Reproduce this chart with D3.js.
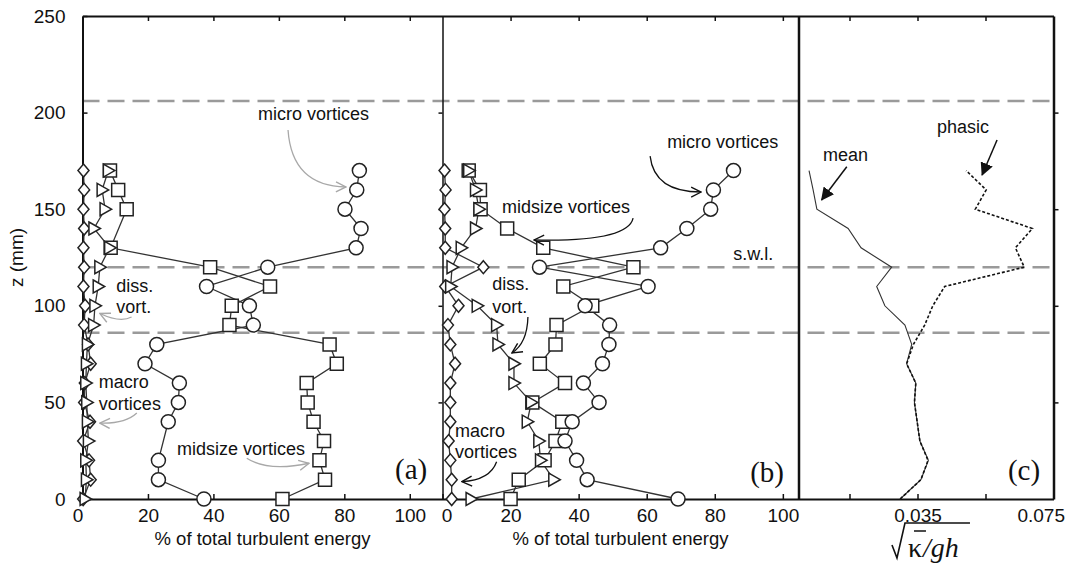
<!DOCTYPE html>
<html>
<head>
<meta charset="UTF-8">
<style>
  body { margin: 0; background: #fff; }
  svg text { font-family: 'Liberation Sans', Arial, sans-serif; fill: #111; }
  .axis path.domain { stroke: #111; stroke-width: 2; }
  .axis line { stroke: #111; stroke-width: 1.5; }
  .axis text { font-size: 19px; }
  .ann { font-size: 18px; }
  .panel-tag { font-family: 'Liberation Serif', 'Times New Roman', serif !important; font-size: 29px; }
</style>
</head>
<body>
<svg id="chart" width="1072" height="563"></svg>
<script src="https://d3js.org/d3.v7.min.js"></script>
<script>
// heights (mm)
const zLevels = [0, 10, 20, 30, 40, 50, 60, 70, 80, 90, 100, 110, 120, 130, 140, 150, 160, 170];
const dashLevels = [206, 120, 86];

// panel (a): % of total turbulent energy, null = no marker at that level
const aMicro = [37.1, 23.2, 23.2, null, 26.2, 29.3, 29.6, 19.1, 22.7, 52.2, 51.0, 37.9, 56.6, 83.6, 85.1, 80.2, 83.8, 84.6];
const aMid   = [61.1, 74.1, 72.4, 73.8, 70.6, 68.8, 68.5, 77.7, 75.5, 44.9, 45.6, 57.3, 39.0, 8.6, null, 13.5, 10.9, 8.4];
const aDiss  = [0.8, 1.2, 1.0, 1.8, 1.5, 1.3, 1.0, 1.2, 1.5, 3.4, 3.8, 4.8, 5.3, 8.3, 3.5, 6.9, 6.0, 7.9];
const aMacro = [0.2, 2.5, 2.0, 0.2, 2.3, 0.5, 0.7, 2.5, 1.7, 0.5, 0.8, 0.3, 0.5, 0.3, 0.5, 0.3, 0.5, 0.3];

// panel (b)
const bMicro = [69.2, 42.5, 39.4, 36.0, 38.1, 46.0, 41.4, 47.0, 48.9, 49.1, 41.9, 60.4, 28.5, 64.1, 71.8, 78.8, 79.6, 85.5];
const bMid   = [20.0, 22.4, 30.0, 33.2, 35.2, 26.4, 36.0, 28.6, 33.2, 33.5, 44.0, 35.5, 56.1, 29.6, 19.0, 11.2, 11.0, 7.7];
const bDiss  = [8.4, 32.7, 28.8, 28.3, 24.9, 26.1, 21.0, 21.0, 16.3, 15.9, 10.2, 2.4, 2.8, 5.5, 9.7, 10.7, 9.7, 7.7];
const bMacro = [2.7, 2.7, 2.3, 1.8, 2.3, 2.3, 2.3, 3.7, 2.3, 1.6, 4.7, 0.8, 12.0, 0.8, 0.8, 0.6, 0.9, 0.6];

// panel (c): sqrt(k/gh)
const cMean   = [0.0299, 0.0360, 0.0382, 0.0357, 0.0349, 0.0341, 0.0345, 0.0318, 0.0333, 0.0313, 0.0254, 0.0230, 0.0274, 0.0184, 0.0146, 0.0054, 0.0043, 0.0031];
const cPhasic = [0.0299, 0.0360, 0.0381, 0.0357, 0.0349, 0.0341, 0.0345, 0.0318, 0.0338, 0.0371, 0.0395, 0.0430, 0.0664, 0.0638, 0.0688, 0.0520, 0.0552, 0.0493];

const pctTicks = [0, 20, 40, 60, 80, 100];
const zTicks = [0, 50, 100, 150, 200, 250];
const cTicks = [0.015, 0.035, 0.055, 0.075];
const cTickLabels = [0.035, 0.075];

const svg = d3.select("#chart");

let y  = d3.scaleLinear().domain([0, 250]).range([499, 16]);
let xa = d3.scaleLinear().domain([0, 110]).range([82.5, 442.5]);
let xb = d3.scaleLinear().domain([0, 104.6]).range([442.5, 798.5]);
let xc = d3.scaleLinear().domain([0, 0.075]).range([798.5, 1053.5]);

// arrow heads
let defs = svg.append("defs");
function openHead(id, col) {
  defs.append("marker").attr("id", id)
    .attr("viewBox", "0 0 12 12").attr("refX", 11).attr("refY", 6)
    .attr("markerWidth", 12).attr("markerHeight", 12)
    .attr("markerUnits", "userSpaceOnUse").attr("orient", "auto")
    .append("path").attr("d", "M1,1 L11,6 L1,11")
    .attr("fill", "none").attr("stroke", col).attr("stroke-width", 1.4);
}
openHead("headGray", "#a8a8a8");
openHead("headBlack", "#111");
defs.append("marker").attr("id", "headFill")
  .attr("viewBox", "0 0 12 12").attr("refX", 11).attr("refY", 6)
  .attr("markerWidth", 13).attr("markerHeight", 13)
  .attr("markerUnits", "userSpaceOnUse").attr("orient", "auto")
  .append("path").attr("d", "M0,0 L12,6 L0,12 Z").attr("fill", "#111");

// dashed reference levels
svg.append("g").selectAll("line").data(dashLevels).enter().append("line")
  .attr("x1", xa(0)).attr("x2", xc(0.075))
  .attr("y1", d => y(d)).attr("y2", d => y(d))
  .attr("stroke", "#9a9a9a").attr("stroke-width", 2.5)
  .attr("stroke-dasharray", "17,8");

// axes
function axisG(cls) { return svg.append("g").attr("class", "axis " + cls); }

axisG("yl").attr("transform", "translate(" + xa(0) + ",0)")
  .call(d3.axisLeft(y).tickValues(zTicks).tickSize(-5).tickSizeOuter(0).tickPadding(17));

axisG("ya").attr("transform", "translate(" + xa.range()[1] + ",0)")
  .call(d3.axisRight(y).tickValues([50, 100, 150, 200]).tickSize(-4).tickSizeOuter(0).tickFormat(""))
  .select("path.domain").style("stroke-width", 1.5);

axisG("yb").attr("transform", "translate(" + xb.range()[1] + ",0)")
  .call(d3.axisRight(y).tickValues([]).tickSizeOuter(0))
  .select("path.domain").style("stroke-width", 2.5);

axisG("yc").attr("transform", "translate(" + xc.range()[1] + ",0)")
  .call(d3.axisLeft(y).tickValues([50, 100, 150, 200]).tickSize(-5).tickSizeOuter(0).tickFormat(""))
  .select("path.domain").style("stroke-width", 2.5);

let bxa = axisG("xa").attr("transform", "translate(0," + y(0) + ")")
  .call(d3.axisBottom(xa).tickValues(pctTicks).tickSize(-5).tickSizeOuter(0).tickPadding(10));
bxa.selectAll(".tick text").filter(d => d === 0).attr("dx", -5);
axisG("xat").attr("transform", "translate(0," + y(250) + ")")
  .call(d3.axisTop(xa).tickValues(pctTicks.slice(1)).tickSize(-5).tickSizeOuter(0).tickFormat(""));

let bxb = axisG("xb").attr("transform", "translate(0," + y(0) + ")")
  .call(d3.axisBottom(xb).tickValues(pctTicks).tickSize(-5).tickSizeOuter(0).tickPadding(10));
bxb.selectAll(".tick text").filter(d => d === 0).attr("dx", 4);
axisG("xbt").attr("transform", "translate(0," + y(250) + ")")
  .call(d3.axisTop(xb).tickValues(pctTicks.slice(1)).tickSize(-5).tickSizeOuter(0).tickFormat(""));

let bxc = axisG("xc").attr("transform", "translate(0," + y(0) + ")")
  .call(d3.axisBottom(xc).tickValues(cTicks).tickSize(-5).tickSizeOuter(0).tickPadding(10)
    .tickFormat(d => cTickLabels.includes(d) ? String(d) : ""));
bxc.selectAll(".tick text").filter(d => d === 0.075).attr("text-anchor", "end").attr("dx", 11);
axisG("xct").attr("transform", "translate(0," + y(250) + ")")
  .call(d3.axisTop(xc).tickValues(cTicks.slice(0, 3)).tickSize(-5).tickSizeOuter(0).tickFormat(""));

// axis titles
svg.append("text").attr("class", "ann")
  .attr("transform", "translate(23," + y(125) + ") rotate(-90)")
  .attr("text-anchor", "middle").style("font-size", "19px").text("z (mm)");
svg.append("text").attr("class", "ann").attr("text-anchor", "middle")
  .attr("x", (xa.range()[0] + xa.range()[1]) / 2).attr("y", 545).style("font-size", "18.5px")
  .text("% of total turbulent energy");
svg.append("text").attr("class", "ann").attr("text-anchor", "middle")
  .attr("x", (xb.range()[0] + xb.range()[1]) / 2).attr("y", 545).style("font-size", "18.5px")
  .text("% of total turbulent energy");

// sqrt(k/gh) label
let kx = xc(0.0322);
let kap = svg.append("text").attr("x", kx).attr("y", 557)
  .style("font-family", "'Liberation Serif', serif").style("font-size", "28px").text("κ");
let kw = kap.node().getComputedTextLength();
svg.append("text").attr("x", kx + kw + 1).attr("y", 557)
  .style("font-family", "'Liberation Serif', serif").style("font-size", "28px")
  .style("font-style", "italic").text("/gh");
svg.append("path")
  .attr("d", "M" + (kx - 16) + ",545 L" + (kx - 11) + ",558 L" + (kx - 3) + ",523 L" + (kx + 62) + ",523")
  .attr("fill", "none").attr("stroke", "#111").attr("stroke-width", 1.6);
svg.append("line").attr("x1", kx + 6).attr("x2", kx + 18).attr("y1", 531).attr("y2", 531)
  .attr("stroke", "#111").attr("stroke-width", 1.5);

// marker shapes
function shapePath(shape) {
  if (shape === "circle") return d3.symbol(d3.symbolCircle, 154)();
  if (shape === "square") return "M-6.5,-6.5H6.5V6.5H-6.5Z";
  if (shape === "triangle") return "M-5,-6.5L6.5,0L-5,6.5Z";
  return "M0,-6.5L5.5,0L0,6.5L-5.5,0Z";
}

function drawSeries(g, xs, vals) {
  let pts = zLevels.map((z, i) => ({ z: z, v: vals[i] })).filter(d => d.v != null);
  g.append("path").datum(pts)
    .attr("fill", "none").attr("stroke", "#333").attr("stroke-width", 1.3)
    .attr("d", d3.line().x(d => xs(d.v)).y(d => y(d.z)));
  return pts;
}
function drawMarks(g, xs, pts, shape) {
  g.selectAll("path.m-" + shape).data(pts).enter().append("path")
    .attr("class", "m-" + shape)
    .attr("transform", d => "translate(" + xs(d.v) + "," + y(d.z) + ")")
    .attr("d", shapePath(shape))
    .attr("fill", "#fff").attr("stroke", "#222").attr("stroke-width", 1.5);
}

function panel(xs, sets) {
  let g = svg.append("g");
  let all = sets.map(s => ({ pts: drawSeries(g, xs, s[0]), shape: s[1] }));
  all.forEach(s => drawMarks(g, xs, s.pts, s.shape));
}
panel(xa, [[aMacro, "diamond"], [aMid, "square"], [aMicro, "circle"], [aDiss, "triangle"]]);
panel(xb, [[bMacro, "diamond"], [bMid, "square"], [bMicro, "circle"], [bDiss, "triangle"]]);

// panel (c) lines
svg.append("path").datum(cMean)
  .attr("fill", "none").attr("stroke", "#333").attr("stroke-width", 1.1)
  .attr("d", d3.line().x(d => xc(d)).y((d, i) => y(zLevels[i])));
svg.append("path").datum(cPhasic)
  .attr("fill", "none").attr("stroke", "#111").attr("stroke-width", 1.6)
  .attr("stroke-dasharray", "3,2")
  .attr("d", d3.line().x(d => xc(d)).y((d, i) => y(zLevels[i])));

// annotations (data coordinates of each panel)
const labelsA = [
  ["micro vortices", 53.6, 196.2], ["diss.", 10.3, 107.1], ["vort.", 10.3, 96.3],
  ["macro", 5.0, 57.5], ["vortices", 5.0, 46.1], ["midsize vortices", 28.9, 22.8]
];
const labelsB = [
  ["micro vortices", 66.0, 181.7], ["midsize vortices", 17.5, 148.0], ["s.w.l.", 85.4, 123.7],
  ["diss.", 14.6, 108.2], ["vort.", 14.6, 96.3], ["macro", 3.7, 32.1], ["vortices", 3.7, 21.2]
];
const labelsC = [["mean", 0.0072, 174.9], ["phasic", 0.0407, 189.4]];

const arrowsA = [
  [[62.8, 191.0], [64.0, 162.0], [80.5, 161.5]],
  [[15.0, 94.2], [11.5, 91.1], [5.3, 96.0]],
  [[16.6, 44.5], [13.0, 38.8], [5.3, 39.3]],
  [[50.2, 21.1], [56.7, 14.0], [69.2, 18.5]]
];
const arrowsB = [
  [[61.0, 177.5], [62.2, 158.9], [76.0, 158.9]],
  [[56.0, 145.4], [54.5, 133.0], [26.9, 134.1]],
  [[25.1, 94.2], [24.9, 80.7], [20.4, 75.6]],
  [[15.9, 19.3], [14.0, 9.8], [5.7, 9.0]]
];
const arrowsC = [
  [[0.0142, 172.0], [0.0068, 154.8]],
  [[0.0584, 185.8], [0.0540, 167.7]]
];

function labels(xs, list) {
  svg.append("g").selectAll("text").data(list).enter().append("text")
    .attr("class", "ann").attr("x", d => xs(d[1])).attr("y", d => y(d[2])).text(d => d[0]);
}
labels(xa, labelsA); labels(xb, labelsB); labels(xc, labelsC);

function curves(xs, list, col, head) {
  svg.append("g").selectAll("path").data(list).enter().append("path")
    .attr("d", d => {
      let p = d3.path();
      p.moveTo(xs(d[0][0]), y(d[0][1]));
      p.quadraticCurveTo(xs(d[1][0]), y(d[1][1]), xs(d[2][0]), y(d[2][1]));
      return p.toString();
    })
    .attr("fill", "none").attr("stroke", col).attr("stroke-width", 1.3)
    .attr("marker-end", "url(#" + head + ")");
}
curves(xa, arrowsA, "#a8a8a8", "headGray");
curves(xb, arrowsB, "#111", "headBlack");
svg.append("g").selectAll("line").data(arrowsC).enter().append("line")
  .attr("x1", d => xc(d[0][0])).attr("y1", d => y(d[0][1]))
  .attr("x2", d => xc(d[1][0])).attr("y2", d => y(d[1][1]))
  .attr("stroke", "#111").attr("stroke-width", 1.5).attr("marker-end", "url(#headFill)");

// panel tags
const tags = [["(a)", xa, 95.5, 10.4], ["(b)", xb, 90.4, 8.8], ["(c)", xc, 0.0616, 9.8]];
svg.append("g").selectAll("text").data(tags).enter().append("text")
  .attr("class", "panel-tag").attr("x", d => d[1](d[2])).attr("y", d => y(d[3])).text(d => d[0]);
</script>
</body>
</html>
